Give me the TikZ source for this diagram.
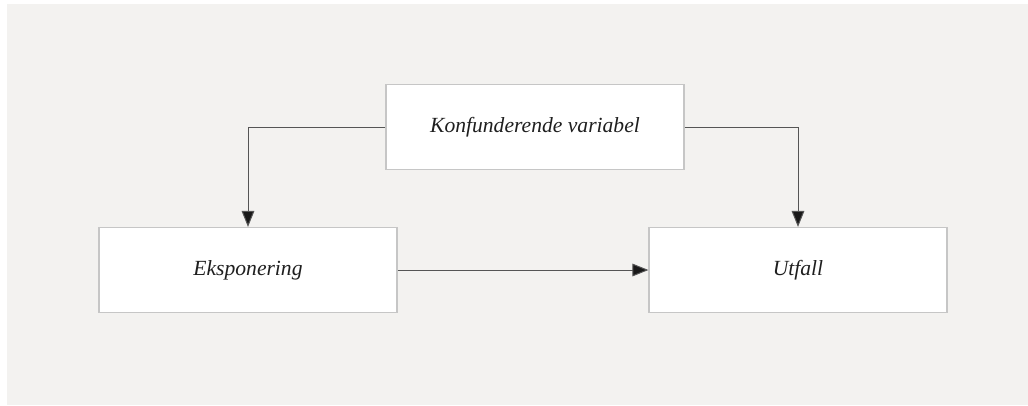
\documentclass[tikz,border=0pt]{standalone}
\usepackage{fontspec}
\setmainfont{Liberation Serif}
\usetikzlibrary{arrows.meta}
\definecolor{bg}{HTML}{F3F2F0}
\definecolor{boxline}{HTML}{C6C6C6}
\definecolor{conn}{HTML}{555555}
\begin{document}
\begin{tikzpicture}[x=0.75pt,y=-0.75pt,
  box/.style={draw=boxline,line width=0.9pt,fill=white,minimum width=223.5pt,minimum height=63.75pt,inner sep=0pt,font=\itshape\fontsize{16.2}{19}\selectfont,text=black!88},
  conn/.style={draw=conn,line width=0.75pt,-{Triangle[length=12pt,width=9.5pt,fill=black!90]}}]
\useasboundingbox (0,0) rectangle (1028,405);
\fill[white] (0,0) rectangle (1028,405);
\fill[bg] (7,4) rectangle (1028,405);
\node[box] (k) at (535,127) {Konfunderende variabel};
\node[box] (e) at (248,270) {Eksponering};
\node[box] (u) at (798,270) {Utfall};
\draw[conn] (k.west) -| (e.north);
\draw[conn] (k.east) -| (u.north);
\draw[conn] (e.east) -- (u.west);
\end{tikzpicture}
\end{document}
